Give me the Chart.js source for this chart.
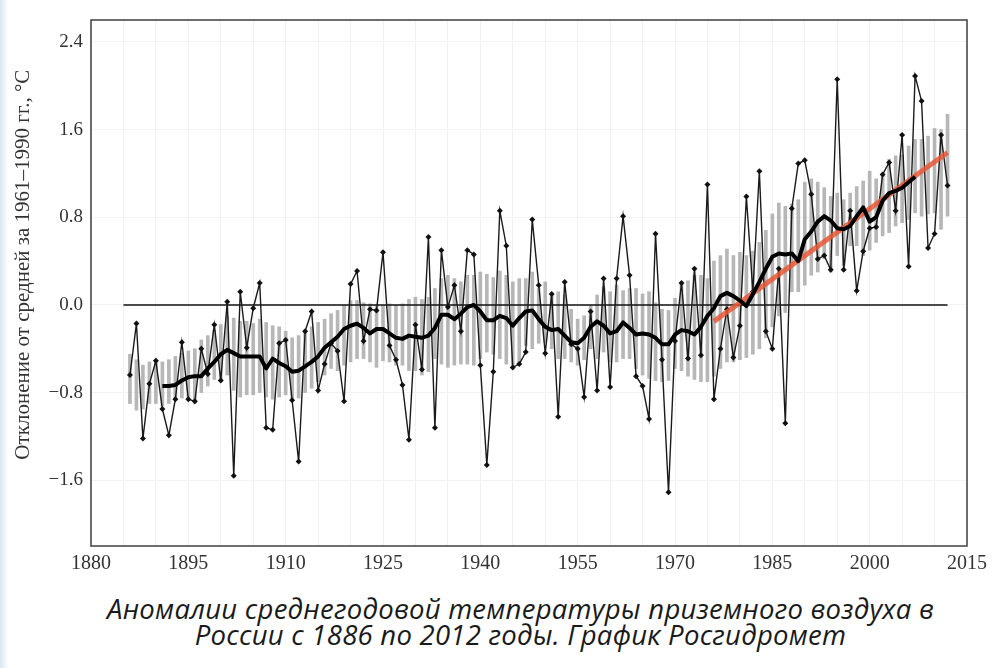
<!DOCTYPE html>
<html>
<head>
<meta charset="utf-8">
<script src="https://cdn.jsdelivr.net/npm/chart.js@4.4.1/dist/chart.umd.min.js"></script>
<style>
  html,body{margin:0;padding:0;background:#fff;}
  #wrap{position:relative;width:1001px;height:668px;overflow:hidden;}
  #strip{position:absolute;left:0;top:0;width:9px;height:668px;background:linear-gradient(to right,#dbe6f2,#ffffff);}
  #cv{position:absolute;left:0;top:0;}
  #cap{position:absolute;left:40px;top:596px;width:961px;text-align:center;font-family:"Open Sans",sans-serif;font-style:italic;font-size:27.5px;line-height:26px;color:#1a1a1a;letter-spacing:0.25px;}
</style>
</head>
<body>
<div id="wrap">
  <div id="strip"></div>
  <canvas id="cv" width="1001" height="590"></canvas>
  <div id="cap">Аномалии среднегодовой температуры приземного воздуха в<br>России с 1886 по 2012 годы. График Росгидромет</div>
</div>
<script>
const years = [1886,1887,1888,1889,1890,1891,1892,1893,1894,1895,1896,1897,1898,1899,1900,1901,1902,1903,1904,1905,1906,1907,1908,1909,1910,1911,1912,1913,1914,1915,1916,1917,1918,1919,1920,1921,1922,1923,1924,1925,1926,1927,1928,1929,1930,1931,1932,1933,1934,1935,1936,1937,1938,1939,1940,1941,1942,1943,1944,1945,1946,1947,1948,1949,1950,1951,1952,1953,1954,1955,1956,1957,1958,1959,1960,1961,1962,1963,1964,1965,1966,1967,1968,1969,1970,1971,1972,1973,1974,1975,1976,1977,1978,1979,1980,1981,1982,1983,1984,1985,1986,1987,1988,1989,1990,1991,1992,1993,1994,1995,1996,1997,1998,1999,2000,2001,2002,2003,2004,2005,2006,2007,2008,2009,2010,2011,2012];

const annual = [-0.64,-0.17,-1.22,-0.72,-0.51,-0.95,-1.19,-0.86,-0.34,-0.86,-0.88,-0.40,-0.63,-0.18,-0.69,0.03,-1.56,0.12,-0.39,-0.03,0.20,-1.12,-1.14,-0.35,-0.32,-0.87,-1.43,-0.24,-0.06,-0.78,-0.54,-0.35,-0.42,-0.88,0.19,0.31,-0.33,-0.04,-0.05,0.48,-0.37,-0.50,-0.73,-1.23,-0.18,-0.59,0.62,-1.12,0.50,-0.02,0.18,-0.24,0.50,0.46,-0.55,-1.46,-0.61,0.86,0.54,-0.57,-0.54,-0.43,0.78,0.18,-0.44,0.10,-1.02,0.21,-0.36,-0.40,-0.84,-0.06,-0.78,0.24,-0.75,0.24,0.81,0.27,-0.65,-0.74,-1.04,0.65,-0.50,-1.71,-0.33,0.20,-0.49,0.33,-0.46,1.10,-0.86,-0.40,-0.04,-0.48,-0.19,0.99,0.12,1.22,-0.24,-0.40,0.33,-1.08,0.88,1.29,1.32,1.01,0.42,0.45,0.32,2.06,0.32,0.86,0.13,0.49,0.70,0.71,1.19,1.30,0.86,1.55,0.35,2.09,1.86,0.52,0.65,1.55,1.09];

const rangeLow = [-0.90,-0.96,-0.95,-0.90,-0.90,-0.92,-0.90,-0.86,-0.85,-0.86,-0.90,-0.80,-0.74,-0.68,-0.70,-0.64,-0.78,-0.84,-0.82,-0.82,-0.80,-0.84,-0.86,-0.84,-0.82,-0.86,-0.85,-0.80,-0.76,-0.70,-0.64,-0.58,-0.60,-0.55,-0.52,-0.49,-0.49,-0.52,-0.57,-0.51,-0.52,-0.55,-0.55,-0.60,-0.60,-0.64,-0.61,-0.49,-0.54,-0.57,-0.55,-0.54,-0.54,-0.55,-0.49,-0.43,-0.45,-0.49,-0.54,-0.55,-0.55,-0.37,-0.40,-0.35,-0.34,-0.40,-0.49,-0.49,-0.52,-0.55,-0.50,-0.40,-0.49,-0.43,-0.52,-0.52,-0.49,-0.49,-0.58,-0.64,-0.67,-0.69,-0.70,-0.69,-0.58,-0.60,-0.65,-0.68,-0.70,-0.70,-0.65,-0.58,-0.52,-0.52,-0.50,-0.48,-0.45,-0.40,-0.30,-0.20,-0.10,-0.07,0.12,0.12,0.18,0.27,0.30,0.42,0.30,0.45,0.36,0.54,0.54,0.45,0.50,0.57,0.63,0.66,0.72,0.75,0.78,0.84,0.81,0.83,0.84,0.69,0.81];

const rangeHigh = [-0.45,-0.50,-0.55,-0.52,-0.50,-0.52,-0.50,-0.47,-0.44,-0.42,-0.40,-0.32,-0.28,-0.23,-0.18,-0.10,-0.12,-0.15,-0.15,-0.17,-0.13,-0.16,-0.19,-0.20,-0.24,-0.30,-0.28,-0.24,-0.20,-0.16,-0.13,-0.08,-0.05,0.00,0.04,0.04,0.02,0.01,0.00,0.00,0.01,0.00,0.01,0.05,0.07,0.05,0.07,0.15,0.24,0.27,0.24,0.21,0.27,0.27,0.30,0.28,0.25,0.31,0.27,0.21,0.24,0.24,0.30,0.15,0.21,0.09,0.12,0.09,-0.04,-0.13,-0.10,0.00,0.09,0.16,0.12,0.18,0.13,0.15,0.15,0.10,0.12,0.02,-0.04,-0.05,0.06,0.19,0.22,0.27,0.27,0.24,0.40,0.45,0.51,0.45,0.48,0.45,0.49,0.57,0.68,0.83,0.93,0.90,0.92,0.96,1.12,1.15,1.12,1.07,0.99,1.02,0.96,1.02,1.08,1.13,1.22,1.15,1.19,1.33,1.36,1.37,1.45,1.51,1.51,1.54,1.61,1.60,1.74];

const smoothYears = [1891,1892,1893,1894,1895,1896,1897,1898,1899,1900,1901,1902,1903,1904,1905,1906,1907,1908,1909,1910,1911,1912,1913,1914,1915,1916,1917,1918,1919,1920,1921,1922,1923,1924,1925,1926,1927,1928,1929,1930,1931,1932,1933,1934,1935,1936,1937,1938,1939,1940,1941,1942,1943,1944,1945,1946,1947,1948,1949,1950,1951,1952,1953,1954,1955,1956,1957,1958,1959,1960,1961,1962,1963,1964,1965,1966,1967,1968,1969,1970,1971,1972,1973,1974,1975,1976,1977,1978,1979,1980,1981,1982,1983,1984,1985,1986,1987,1988,1989,1990,1991,1992,1993,1994,1995,1996,1997,1998,1999,2000,2001,2002,2003,2004,2005,2006,2007];

const smoothValues = [-0.74,-0.74,-0.73,-0.69,-0.66,-0.65,-0.65,-0.58,-0.52,-0.45,-0.41,-0.44,-0.47,-0.47,-0.47,-0.47,-0.58,-0.49,-0.53,-0.56,-0.61,-0.60,-0.56,-0.52,-0.47,-0.39,-0.34,-0.29,-0.22,-0.19,-0.17,-0.21,-0.26,-0.22,-0.22,-0.26,-0.30,-0.31,-0.28,-0.29,-0.30,-0.28,-0.21,-0.09,-0.09,-0.13,-0.08,-0.02,0.00,-0.06,-0.14,-0.14,-0.10,-0.12,-0.19,-0.12,-0.06,-0.05,-0.13,-0.20,-0.23,-0.22,-0.28,-0.34,-0.35,-0.30,-0.20,-0.15,-0.19,-0.26,-0.24,-0.16,-0.21,-0.27,-0.26,-0.27,-0.30,-0.36,-0.36,-0.27,-0.23,-0.24,-0.27,-0.20,-0.10,-0.03,0.08,0.11,0.08,0.04,-0.01,0.10,0.21,0.33,0.44,0.47,0.46,0.47,0.40,0.60,0.67,0.76,0.81,0.77,0.70,0.69,0.72,0.81,0.89,0.76,0.80,0.95,1.02,1.04,1.07,1.12,1.17];

const trendYears = [1976, 2012];
const trendValues = [-0.15, 1.39];

const baseYears = [1885, 2012];
const baseValues = [0, 0];

const xTickStart = 1880, xTickEnd = 2015, xLabelStep = 15, xGridStep = 5;
const yTicks = [-1.6, -0.8, 0.0, 0.8, 1.6, 2.4];
const yMin = -2.2, yMax = 2.6;
const yTitle = '\u00A0\u00A0\u00A0\u00A0\u00A0\u00A0\u00A0Отклонение от средней за 1961–1990 гг., °C';

const toXY = (xs, ys) => xs.map((x, i) => ({x: x, y: ys[i]}));

const framePlugin = {
  id: 'frame',
  afterDraw(chart) {
    const {ctx, chartArea: a} = chart;
    ctx.save();
    ctx.strokeStyle = '#4a4a4a';
    ctx.lineWidth = 1.6;
    ctx.strokeRect(a.left, a.top, a.right - a.left, a.bottom - a.top);
    ctx.restore();
  }
};

new Chart(document.getElementById('cv'), {
  type: 'bar',
  data: {
    datasets: [
      {
        type: 'bar',
        label: 'range',
        data: years.map((x, i) => ({x: x, y: [rangeLow[i], rangeHigh[i]]})),
        backgroundColor: 'rgba(165,165,165,0.8)',
        borderWidth: 0,
        barThickness: 3,
        order: 10
      },
      {
        type: 'line',
        label: 'zero',
        data: toXY(baseYears, baseValues),
        borderColor: '#111',
        borderWidth: 1.5,
        pointRadius: 0,
        order: 9
      },
      {
        type: 'line',
        label: 'annual',
        data: toXY(years, annual),
        borderColor: '#1a1a1a',
        borderWidth: 1.4,
        pointStyle: 'rectRot',
        pointRadius: 3,
        pointBackgroundColor: '#111',
        pointBorderWidth: 0,
        tension: 0,
        order: 8
      },
      {
        type: 'line',
        label: 'trend',
        data: toXY(trendYears, trendValues),
        borderColor: 'rgba(232,88,55,0.85)',
        borderWidth: 5,
        pointRadius: 0,
        order: 7
      },
      {
        type: 'line',
        label: 'smooth',
        data: toXY(smoothYears, smoothValues),
        borderColor: '#000',
        borderWidth: 4,
        borderJoinStyle: 'round',
        pointRadius: 0,
        tension: 0,
        order: 6
      }
    ]
  },
  options: {
    responsive: false,
    animation: false,
    events: [],
    layout: {padding: {top: 20, right: 34, left: 0, bottom: 0}},
    plugins: {legend: {display: false}, tooltip: {enabled: false}},
    scales: {
      x: {
        type: 'linear',
        min: xTickStart,
        max: xTickEnd,
        offset: false,
        border: {display: false},
        grid: {color: '#f1f1f1', lineWidth: 1, drawTicks: false, offset: false},
        ticks: {
          stepSize: xGridStep,
          autoSkip: false,
          maxRotation: 0,
          padding: 6,
          color: '#333',
          font: {family: '"Liberation Serif", "DejaVu Serif", serif', size: 20},
          callback: (v) => ((v - xTickStart) % xLabelStep === 0 ? String(v) : '')
        },
        afterFit: (s) => { s.height = 44; }
      },
      y: {
        type: 'linear',
        min: yMin,
        max: yMax,
        border: {display: false},
        grid: {color: '#f3f3f3', lineWidth: 1, drawTicks: false},
        afterBuildTicks: (s) => { s.ticks = yTicks.map(v => ({value: v})); },
        ticks: {
          padding: 8,
          color: '#333',
          font: {family: '"Liberation Serif", "DejaVu Serif", serif', size: 19},
          callback: (v) => (v < 0 ? '\u2212' + Math.abs(v).toFixed(1) : v.toFixed(1))
        },
        title: {
          display: true,
          text: yTitle,
          color: '#333',
          padding: {top: 11, bottom: 0},
          font: {family: '"Liberation Serif", "DejaVu Serif", serif', size: 21}
        },
        afterFit: (s) => { s.width = 91; }
      }
    }
  },
  plugins: [framePlugin]
});
</script>
</body>
</html>
